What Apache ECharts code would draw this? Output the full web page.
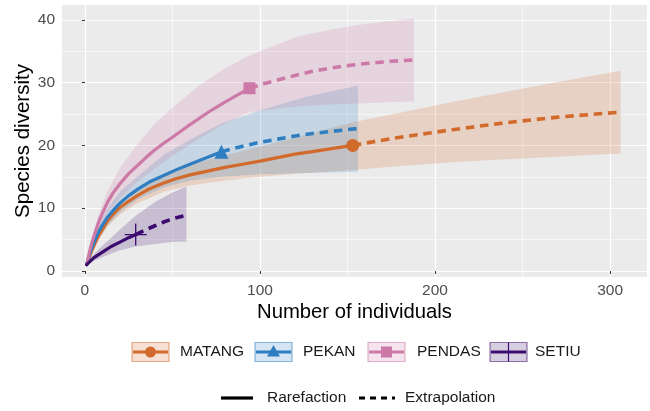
<!DOCTYPE html>
<html><head><meta charset="utf-8">
<script src="https://cdn.jsdelivr.net/npm/echarts@6/dist/echarts.min.js"></script>
<style>html,body{margin:0;padding:0;background:#fff}#c{width:650px;height:411px}</style>
</head><body><div id="c"></div>
<script>
// ---------- data ----------
var groups = ["MATANG", "PEKAN", "PENDAS", "SETIU"];
var xTicks = [0, 100, 200, 300];
var xMinor = [50, 150, 250];
var yTicks = [0, 10, 20, 30, 40];
var yMinor = [5, 15, 25, 35];

// rarefaction (solid)
var matangRareX = [1, 2.5, 4, 6, 8, 10, 13, 16, 20, 25, 30, 37, 45, 52, 60, 70, 80, 90, 100, 110, 120, 130, 140, 153];
var matangRareY = [1, 2.2, 3.3, 4.6, 5.7, 6.6, 8.0, 9.0, 10.1, 11.1, 12.0, 13.1, 14.0, 14.7, 15.3, 15.9, 16.5, 17.0, 17.5, 18.05, 18.6, 19.0, 19.45, 20.0];
var pekanRareX = [1, 2.5, 4, 6, 8, 10, 13, 16, 20, 25, 30, 37, 45, 52, 60, 69, 78];
var pekanRareY = [1, 2.5, 3.7, 5.1, 6.3, 7.3, 8.6, 9.6, 10.8, 12.0, 13.0, 14.2, 15.2, 16.1, 17.0, 18.0, 19.0];
var pendasRareX = [1, 2.5, 4, 6, 8, 10, 13, 16, 20, 25, 30, 35, 40, 45, 50, 55, 60, 65, 70, 75, 80, 87, 94];
var pendasRareY = [1, 2.9, 4.5, 6.3, 7.9, 9.2, 11.0, 12.4, 13.9, 15.5, 16.8, 18.1, 19.3, 20.35, 21.3, 22.3, 23.3, 24.25, 25.2, 26.05, 26.9, 28.0, 29.1];
var setiuRareX = [1, 5, 10, 15, 20, 25, 29];
var setiuRareY = [1, 2.1, 3.0, 3.9, 4.6, 5.3, 5.8];

// extrapolation (dashed)
var matangExtX = [153, 165, 180, 195, 210, 225, 240, 255, 270, 288, 306];
var matangExtY = [20.0, 20.6, 21.3, 21.9, 22.5, 23.05, 23.6, 24.05, 24.5, 24.9, 25.3];
var pekanExtX = [78, 89, 100, 110, 120, 130, 140, 148, 156];
var pekanExtY = [19.0, 19.8, 20.5, 21.0, 21.5, 21.9, 22.2, 22.45, 22.7];
var pendasExtX = [94, 102, 110, 121, 130, 140, 150, 159, 167, 175, 188];
var pendasExtY = [29.1, 29.8, 30.4, 31.2, 31.8, 32.3, 32.7, 33.0, 33.2, 33.4, 33.6];
var setiuExtX = [29, 35, 40, 45, 50, 58];
var setiuExtY = [5.8, 6.6, 7.2, 7.8, 8.3, 8.9];

// confidence bands
var matangBandX = [1, 4, 8, 13, 20, 30, 45, 60, 80, 100, 120, 153, 180, 210, 240, 270, 306];
var matangLow  = [1, 2.8, 5.0, 7.1, 9.0, 10.8, 12.6, 13.6, 14.4, 15.0, 15.5, 16.1, 16.7, 17.3, 17.8, 18.2, 18.7];
var matangUp   = [1, 3.8, 6.4, 8.9, 11.2, 13.2, 15.4, 16.9, 18.4, 19.8, 21.2, 23.7, 25.2, 26.9, 28.5, 30.1, 31.9];
var pekanBandX = [1, 4, 8, 13, 20, 30, 45, 60, 78, 100, 127, 156];
var pekanLow   = [1, 3.2, 5.4, 7.3, 9.3, 11.4, 13.3, 14.4, 15.0, 15.4, 15.6, 15.8];
var pekanUp    = [1, 4.3, 7.3, 10.0, 12.6, 15.0, 18.5, 20.9, 23.5, 25.6, 27.8, 29.5];
var pendasBandX = [1, 4, 8, 13, 20, 30, 40, 50, 65, 80, 94, 121, 140, 159, 175, 188];
var pendasLow   = [1, 3.8, 6.6, 9.2, 11.6, 14.2, 16.3, 18.3, 21.0, 23.5, 25.3, 26.2, 26.5, 26.7, 26.9, 27.0];
var pendasUp    = [1, 5.2, 9.2, 12.8, 16.4, 20.2, 23.5, 26.0, 29.5, 32.3, 34.3, 37.3, 38.4, 39.3, 39.8, 40.2];
var setiuBandX = [1, 5, 10, 15, 20, 29, 40, 50, 58];
var setiuLow   = [1, 1.6, 2.2, 2.8, 3.3, 3.9, 4.3, 4.6, 4.7];
var setiuUp    = [1, 2.7, 4.0, 5.3, 6.6, 8.8, 11.0, 12.5, 13.4];

// observed points
var obsX = [153, 78, 94, 29];
var obsY = [20.0, 19.0, 29.1, 5.8];

// ---------- styling ----------
var colors = ["#D16A2A", "#2F7EC1", "#CC79A7", "#3C0B6E"];
var symbols = ["circle", "triangle", "rect", "path://M9.4,0h1.2v20h-1.2zM0,9.4h20v1.2h-20z"];
var symSizes = [13, 14, 12, 22];
var FONT = "'Liberation Sans', Arial, Helvetica, sans-serif";

var rare = [[matangRareX, matangRareY], [pekanRareX, pekanRareY], [pendasRareX, pendasRareY], [setiuRareX, setiuRareY]];
var ext = [[matangExtX, matangExtY], [pekanExtX, pekanExtY], [pendasExtX, pendasExtY], [setiuExtX, setiuExtY]];
var bands = [[matangBandX, matangLow, matangUp], [pekanBandX, pekanLow, pekanUp], [pendasBandX, pendasLow, pendasUp], [setiuBandX, setiuLow, setiuUp]];

function zip(xs, ys) { return xs.map(function (x, i) { return [x, ys[i]]; }); }
function hexA(hex, a) {
  var r = parseInt(hex.substr(1, 2), 16), g = parseInt(hex.substr(3, 2), 16), b = parseInt(hex.substr(5, 2), 16);
  return "rgba(" + r + "," + g + "," + b + "," + a + ")";
}

var series = [];
bands.forEach(function (b, gi) {
  var bx = b[0], lo = b[1], up = b[2];
  series.push({
    type: "custom", name: groups[gi] + " band", xAxisIndex: 0, yAxisIndex: 0,
    data: bx.map(function (x, i) { return [x, lo[i], up[i]]; }),
    encode: { x: 0, y: [1, 2] }, z: 1, silent: true, clip: true,
    renderItem: function (params, api) {
      if (params.dataIndex !== 0) return null;
      var pts = [];
      for (var i = 0; i < bx.length; i++) pts.push(api.coord([bx[i], up[i]]));
      for (var j = bx.length - 1; j >= 0; j--) pts.push(api.coord([bx[j], lo[j]]));
      return { type: "polygon", shape: { points: pts }, style: { fill: hexA(colors[gi], 0.2) } };
    }
  });
});
rare.forEach(function (r, gi) {
  series.push({
    type: "line", name: groups[gi], xAxisIndex: 0, yAxisIndex: 0, data: zip(r[0], r[1]),
    smooth: false, showSymbol: false, z: 3, silent: true,
    lineStyle: { color: colors[gi], width: 3.2, cap: "round", join: "round" }
  });
});
ext.forEach(function (e, gi) {
  series.push({
    type: "line", name: groups[gi] + " ext", xAxisIndex: 0, yAxisIndex: 0, data: zip(e[0], e[1]),
    smooth: false, showSymbol: false, z: 3, silent: true,
    lineStyle: { color: colors[gi], width: 3.6, type: [8.5, 5.8], join: "round" }
  });
});
obsX.forEach(function (x, gi) {
  series.push({
    type: "scatter", name: groups[gi] + " obs", xAxisIndex: 0, yAxisIndex: 0,
    data: [[x, obsY[gi]]], symbol: symbols[gi], symbolSize: symSizes[gi], z: 4, silent: true,
    itemStyle: { color: colors[gi], opacity: 1 }
  });
});

// ---------- legend graphics ----------
var graphics = [];
var keyX = [132, 255, 368, 490], textX = [180, 303, 417, 535];
var rowY = 352;
var LFONT = "15.5px " + FONT;
groups.forEach(function (g, gi) {
  var c = colors[gi];
  graphics.push({ type: "rect", shape: { x: keyX[gi], y: rowY - 9.5, width: 37, height: 19 },
    style: { fill: hexA(c, 0.2), stroke: hexA(c, 0.55), lineWidth: 1.2 } });
  graphics.push({ type: "line", shape: { x1: keyX[gi] + 1, y1: rowY, x2: keyX[gi] + 36, y2: rowY },
    style: { stroke: c, lineWidth: 3.2 } });
  var cx = keyX[gi] + 18.5;
  if (gi === 0) graphics.push({ type: "circle", shape: { cx: cx, cy: rowY, r: 5.5 }, style: { fill: c } });
  if (gi === 1) graphics.push({ type: "polygon", shape: { points: [[cx, rowY - 7], [cx + 6.5, rowY + 4.5], [cx - 6.5, rowY + 4.5]] }, style: { fill: c } });
  if (gi === 2) graphics.push({ type: "rect", shape: { x: cx - 5.5, y: rowY - 5.5, width: 11, height: 11 }, style: { fill: c } });
  if (gi === 3) graphics.push({ type: "line", shape: { x1: cx, y1: rowY - 9.5, x2: cx, y2: rowY + 9.5 }, style: { stroke: c, lineWidth: 1.2 } });
  graphics.push({ type: "text", x: textX[gi], y: rowY, style: { text: g, font: LFONT, fill: "#1a1a1a", verticalAlign: "middle", align: "left" } });
});
var row2 = 398;
graphics.push({ type: "line", shape: { x1: 221, y1: row2, x2: 253, y2: row2 }, style: { stroke: "#000", lineWidth: 3.2 } });
graphics.push({ type: "text", x: 267, y: row2, style: { text: "Rarefaction", font: LFONT, fill: "#1a1a1a", verticalAlign: "middle" } });
graphics.push({ type: "line", shape: { x1: 359, y1: row2, x2: 395, y2: row2 }, style: { stroke: "#000", lineWidth: 3.2, lineDash: [6, 5] } });
graphics.push({ type: "text", x: 405, y: row2, style: { text: "Extrapolation", font: LFONT, fill: "#1a1a1a", verticalAlign: "middle" } });

// ---------- chart ----------
var XMIN = -13.1, XMAX = 321.1, YMIN = -0.96, YMAX = 42.36;
var option = {
  animation: false,
  backgroundColor: "#ffffff",
  textStyle: { fontFamily: FONT },
  grid: { left: 62, right: 3, top: 5, bottom: 134, show: true, backgroundColor: "#EBEBEB", borderWidth: 0, containLabel: false },
  xAxis: [{
    type: "value", min: XMIN, max: XMAX,
    name: "Number of individuals", nameLocation: "middle", nameGap: 25, nameMoveOverlap: false,
    nameTextStyle: { fontSize: 20.3, color: "#000", fontFamily: FONT },
    axisLine: { show: false },
    axisTick: { show: true, length: 3, lineStyle: { color: "#333", width: 1 }, customValues: xTicks },
    axisLabel: { customValues: xTicks, fontSize: 15.5, color: "#4D4D4D", margin: 6, fontFamily: FONT },
    splitLine: { show: true, lineStyle: { color: "#fff", width: 1.2 } }
  }, {
    type: "value", min: XMIN, max: XMAX, position: "bottom",
    axisLine: { show: false },
    axisTick: { show: false, customValues: xMinor },
    axisLabel: { show: false, customValues: xMinor },
    splitLine: { show: true, lineStyle: { color: "#fff", width: 0.6 } }
  }],
  yAxis: [{
    type: "value", min: YMIN, max: YMAX,
    name: "Species diversity", nameLocation: "middle", nameGap: 28, nameMoveOverlap: false,
    nameTextStyle: { fontSize: 20.5, color: "#000", fontFamily: FONT },
    axisLine: { show: false },
    axisTick: { show: true, length: 3, lineStyle: { color: "#333", width: 1 }, customValues: yTicks },
    axisLabel: { customValues: yTicks, fontSize: 15.5, color: "#4D4D4D", margin: 7, fontFamily: FONT },
    splitLine: { show: true, lineStyle: { color: "#fff", width: 1.2 } }
  }, {
    type: "value", min: YMIN, max: YMAX, position: "left",
    axisLine: { show: false },
    axisTick: { show: false, customValues: yMinor },
    axisLabel: { show: false, customValues: yMinor },
    splitLine: { show: true, lineStyle: { color: "#fff", width: 0.6 } }
  }],
  series: series,
  graphic: graphics
};
var chart = echarts.init(document.getElementById("c"), null, { renderer: "canvas" });
chart.setOption(option);
</script></body></html>
